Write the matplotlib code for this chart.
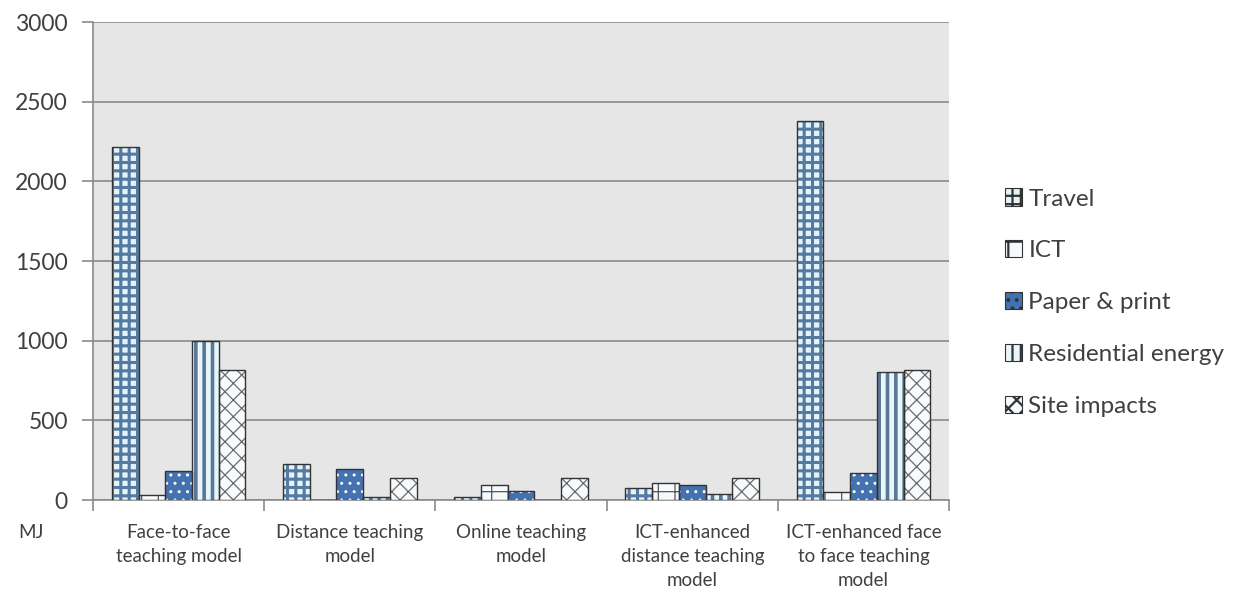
import numpy as np
import matplotlib.pyplot as plt

plt.rcParams['font.family'] = ['Lato', 'DejaVu Sans']
plt.rcParams['hatch.linewidth'] = 1.6

categories = ['Face-to-face\nteaching model', 'Distance teaching\nmodel', 'Online teaching\nmodel',
              'ICT-enhanced\ndistance teaching\nmodel', 'ICT-enhanced face\nto face teaching\nmodel']
series = ['Travel', 'ICT', 'Paper & print', 'Residential energy', 'Site impacts']
travel = [2215, 228, 18, 75, 2380]
ict = [30, 0, 94, 108, 50]
paper = [182, 194, 54, 95, 170]
residential = [1000, 20, 0, 40, 805]
site = [815, 137, 137, 137, 818]
values = [travel, ict, paper, residential, site]

# face colour, hatch colour, hatch pattern, hatch line width
styles = [('#e3f3fb', '#55799f', '++', 2.2),
          ('#f4fafd', '#555555', '+', 0.9),
          ('#4472b0', '#ffffff', '..', 1.0),
          ('#e6f6fb', '#5a7797', '||', 2.6),
          ('#f7fbfd', '#6a6a6a', 'xx', 0.9)]


def hatched_bar(ax, pos, vals, width, style, zorder=3):
    fc, hc, hatch, hlw = style
    with plt.rc_context({'hatch.linewidth': hlw}):
        bars = ax.bar(pos, vals, width, color=fc, edgecolor=hc, hatch=hatch, linewidth=0, zorder=zorder)
        for b in bars:
            if hasattr(b, 'set_hatch_linewidth'):
                b.set_hatch_linewidth(hlw)
    return bars


fig = plt.figure(figsize=(12.48, 5.96), dpi=100)
ax = fig.add_axes([0.0745, 0.161, 0.686, 0.802])
ax.set_facecolor('#e6e6e6')

x = np.arange(len(categories))
w = 0.156
for i, vals in enumerate(values):
    pos = x + (i - 2) * w
    hatched_bar(ax, pos, vals, w, styles[i])
    ax.bar(pos, vals, w, fill=False, edgecolor='#333333', linewidth=1.0, zorder=4)

ax.set_xlim(-0.5, len(categories) - 0.5)
ax.set_ylim(0, 3000)
ax.set_yticks(np.arange(0, 3001, 500))
ax.grid(axis='y', color='#8a8a8a', linewidth=1.2, zorder=1)
ax.set_xticks(x)
ax.set_xticklabels(categories, fontsize=13.5, color='#404040', linespacing=1.5)
ax.set_xticks(np.arange(-0.5, len(categories), 1), minor=True)
ax.tick_params(axis='x', which='major', length=0, pad=17)
ax.tick_params(axis='x', which='minor', length=8, color='#8a8a8a', width=1.2)
ax.tick_params(axis='y', length=8, color='#8a8a8a', width=1.2, labelsize=16.5, labelcolor='#404040', pad=10)
for s in ['top', 'right']:
    ax.spines[s].set_visible(False)
for s in ['left', 'bottom']:
    ax.spines[s].set_color('#8a8a8a')
    ax.spines[s].set_linewidth(1.2)

fig.text(0.015, 0.098, 'MJ', fontsize=13.5, color='#404040')

handles = []
for i in range(len(series)):
    fc, hc, hatch, hlw = styles[i]
    handles.append(plt.Rectangle((0, 0), 1, 1, facecolor=fc, edgecolor='#333333', hatch=hatch, linewidth=0.8))
leg = fig.legend(handles, series, loc='center left', bbox_to_anchor=(0.788, 0.492), frameon=False,
                 fontsize=17.5, labelcolor='#404040', labelspacing=1.27, handlelength=0.7,
                 handleheight=0.7, handletextpad=0.25)

fig.savefig('out.png', dpi=100)
